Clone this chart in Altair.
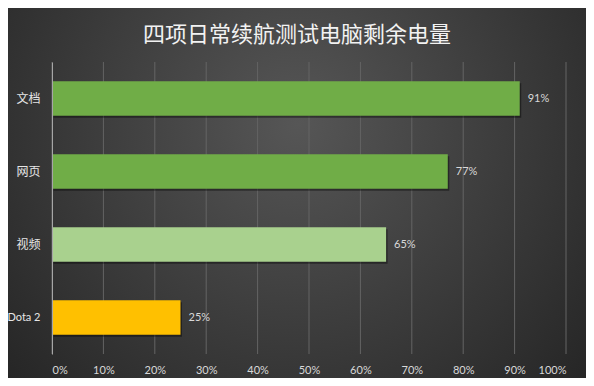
import altair as alt
import pandas as pd

categories = ["文档", "网页", "视频", "Dota 2"]
values = [0.91, 0.77, 0.65, 0.25]
bar_colors = ["#70AD47", "#70AD47", "#A9D18E", "#FFC000"]
x_ticks = [0, 0.1, 0.2, 0.3, 0.4, 0.5, 0.6, 0.7, 0.8, 0.9, 1.0]
title_text = "四项日常续航测试电脑剩余电量"

df = pd.DataFrame({"cat": categories, "val": values})
ticks_df = pd.DataFrame({"t": x_ticks})

W, H = 514, 292
PL, PT, PR, PB = 44, 54, 20, 24
FONT = "Lato, 'Noto Sans CJK SC', sans-serif"

x_axis = alt.Axis(
    values=x_ticks, format=".0%", title=None, domain=False, ticks=False,
    grid=False, labelColor="#d9d9d9", labelFontSize=11, labelFont=FONT,
    labelPadding=10, zindex=1,
)
y_axis = alt.Axis(
    title=None, domain=True, domainColor="#a6a6a6", domainWidth=1,
    ticks=False, grid=False, labelColor="#e6e6e6",
    labelFontSize=alt.ExprRef("datum.value == 'Dota 2' ? 11 : 12"),
    labelFont=FONT, labelPadding=12, zindex=1,
)

bg = alt.Chart(pd.DataFrame({"k": [0]})).mark_rect(
    color={
        "gradient": "radial",
        "x1": 0.5, "y1": 0.38, "r1": 0,
        "x2": 0.5, "y2": 0.38, "r2": 0.72,
        "stops": [
            {"offset": 0, "color": "#565656"},
            {"offset": 1, "color": "#222222"},
        ],
    }
).encode(
    x=alt.value(-PL), x2=alt.value(W + PR),
    y=alt.value(-PT), y2=alt.value(H + PB),
)

title = alt.Chart(pd.DataFrame({"t": [title_text]})).mark_text(
    align="center", baseline="middle", fontSize=22, font="'Noto Sans CJK SC'",
    color="#f2f2f2",
).encode(x=alt.value(W / 2 - 12), y=alt.value(-27), text="t:N")

ysc = alt.Scale(domain=categories, paddingInner=0.53, paddingOuter=0.265)
xsc = alt.Scale(domain=[0, 1], nice=False, zero=True)

grid = alt.Chart(ticks_df).mark_rule(color="#646464", strokeWidth=1).encode(
    x=alt.X("t:Q", scale=xsc, axis=x_axis),
    y=alt.value(0), y2=alt.value(H),
)

base = alt.Chart(df)

shadow = base.mark_bar(color="#000000", opacity=0.4, xOffset=1.5, yOffset=2).encode(
    x=alt.X("val:Q", scale=xsc, axis=x_axis),
    y=alt.Y("cat:N", scale=ysc, sort=categories, axis=y_axis),
)

bars = base.mark_bar().encode(
    x=alt.X("val:Q", scale=xsc, axis=x_axis),
    y=alt.Y("cat:N", scale=ysc, sort=categories, axis=y_axis),
    color=alt.Color("cat:N", scale=alt.Scale(domain=categories, range=bar_colors), legend=None),
)

labels = base.mark_text(align="left", baseline="middle", dx=8, color="#d9d9d9",
                        fontSize=11, font=FONT).encode(
    x=alt.X("val:Q", scale=xsc, axis=x_axis),
    y=alt.Y("cat:N", scale=ysc, sort=categories, axis=y_axis),
    text=alt.Text("val:Q", format=".0%"),
)

chart = alt.layer(bg, grid, shadow, bars, labels, title).properties(
    width=W, height=H,
    autosize=alt.AutoSizeParams(type="none"),
    padding={"left": PL, "top": PT, "right": PR, "bottom": PB},
).configure(background="#333333").configure_view(stroke=None)

chart.save("out.html", embed_options={"renderer": "svg", "actions": False})
